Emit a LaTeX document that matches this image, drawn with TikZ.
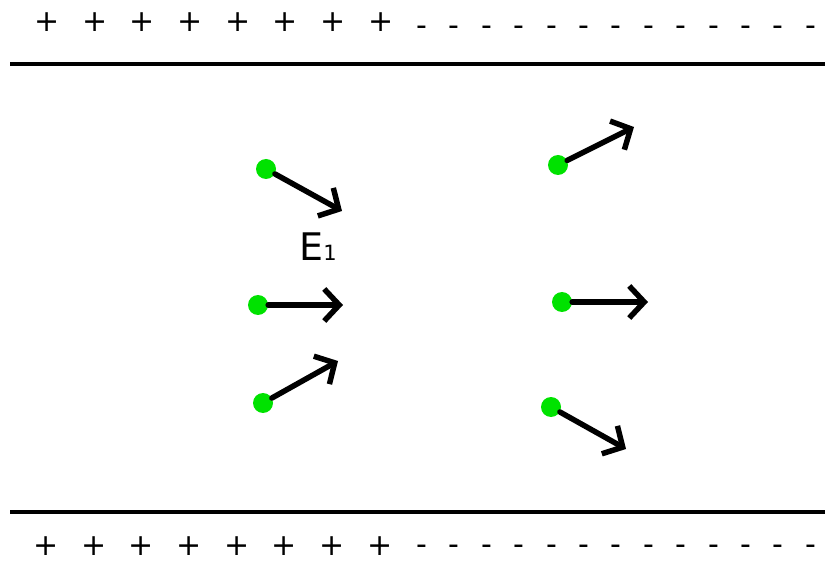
\documentclass[tikz,border=0pt]{standalone}
\usepackage{fontspec}
\setmainfont{DejaVu Sans}
\usetikzlibrary{arrows.meta}

\definecolor{chargegreen}{RGB}{0,226,0}

\begin{document}
\begin{tikzpicture}[line cap=round,line join=round,>={Straight Barb[length=15pt,width=32pt]},x=1pt,y=-1pt,
  dot/.style={circle,fill=chargegreen,inner sep=0pt,minimum size=20pt},
  field/.style={->,line width=5.5pt},
  sign/.style={inner sep=0pt,font=\fontsize{30}{30}\selectfont}]
\useasboundingbox (0,0) rectangle (825,561);
% plates
\draw[line width=4pt,line cap=butt] (10,64) -- (825,64);
\draw[line width=4pt,line cap=butt] (10,512) -- (825,512);
% surface charges
\foreach \i in {0,...,7}
{\node[sign] (tp\i) at (47+47.7*\i,22) {+};
 \node[sign] (bp\i) at (46+47.7*\i,546) {+};}
\foreach \i in {0,...,12}
{\node[sign] (tm\i) at (422+32.4*\i,31) {-};
 \node[sign] (bm\i) at (422+32.4*\i,550) {-};}
% left side
\node[dot] (l1) at (266,169) {};
\node[dot] (l2) at (258,305) {};
\node[dot] (l3) at (263,403) {};
\coordinate (l1e) at (342,211);
\coordinate (l2e) at (343,305);
\coordinate (l3e) at (338,361);
\foreach \k in {1,2,3}
\draw[field] (l\k) -- (l\k e);
\node[inner sep=0pt,font=\fontsize{38}{38}\selectfont] (E1) at (318,247) {E{\fontsize{21}{21}\selectfont 1}};
% right side
\node[dot] (r1) at (558,165) {};
\node[dot] (r2) at (562,302) {};
\node[dot] (r3) at (551,407) {};
\coordinate (r1e) at (634,127);
\coordinate (r2e) at (648,302);
\coordinate (r3e) at (626,449);
\foreach \k in {1,2,3}
\draw[field] (r\k) -- (r\k e);
\end{tikzpicture}
\end{document}
